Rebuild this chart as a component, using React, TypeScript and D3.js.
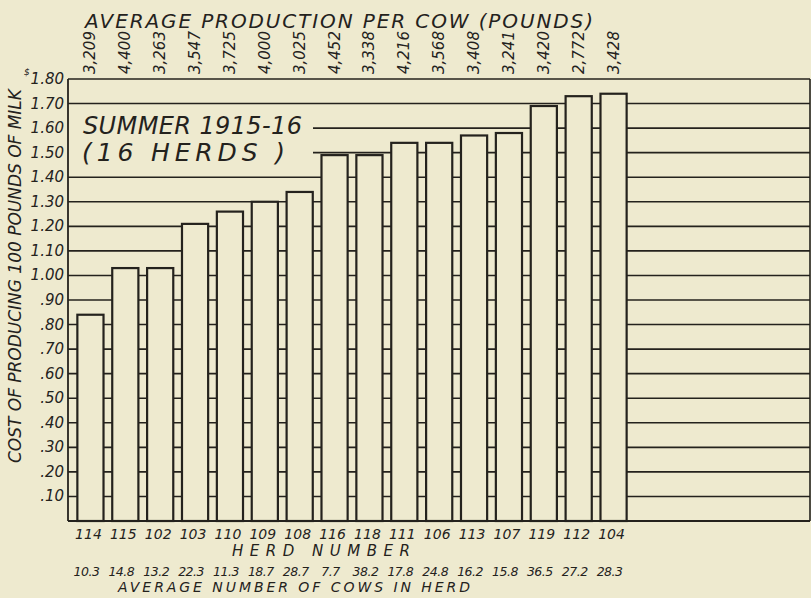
import React from "react";
import * as d3 from "d3";

const herds = ["114","115","102","103","110","109","108","116","118","111","106","113","107","119","112","104"];
const costs = [0.84,1.03,1.03,1.21,1.26,1.30,1.34,1.49,1.49,1.54,1.54,1.57,1.58,1.69,1.73,1.74];
const production = ["3,209","4,400","3,263","3,547","3,725","4,000","3,025","4,452","3,338","4,216","3,568","3,408","3,241","3,420","2,772","3,428"];
const cows = ["10.3","14.8","13.2","22.3","11.3","18.7","28.7","7.7","38.2","17.8","24.8","16.2","15.8","36.5","27.2","28.3"];
const yTicks = [0.1,0.2,0.3,0.4,0.5,0.6,0.7,0.8,0.9,1.0,1.1,1.2,1.3,1.4,1.5,1.6,1.7,1.8];
const hiddenLeft = [1.5, 1.6];

const W = 811, H = 598;
const BG = "#eeeacf";
const INK = "#24221d";
const FONT = "'DejaVu Sans', sans-serif";

export default function App() {
  const left = 68, right = 810, top = 79, bottom = 521;
  const x = d3.scaleBand<string>().domain(herds).range([73, 631]).paddingInner(0.25).paddingOuter(0.125);
  const y = d3.scaleLinear().domain([0, 1.8]).range([bottom, top]);
  const bw = x.bandwidth();
  const fmt = (v: number) => (v < 1 ? d3.format(".2f")(v).replace(/^0/, "") : d3.format(".2f")(v));

  return (
    <svg width={W} height={H} style={{ position: "absolute", left: 0, top: 0, background: BG }} fontFamily={FONT}>
      <rect x={0} y={0} width={W} height={H} fill={BG} />
      {/* top title */}
      <text x={85} y={28} fontSize={20} fontStyle="italic" fill={INK} textLength={508} lengthAdjust="spacing">
        AVERAGE PRODUCTION PER COW (POUNDS)
      </text>
      {/* production labels */}
      {herds.map((h, i) => (
        <text key={"p" + h} transform={`translate(${x(h)! + bw / 2 + 5},${74}) rotate(-90)`} fontSize={15} fontStyle="italic" fill={INK}>
          {production[i]}
        </text>
      ))}
      {/* gridlines */}
      {yTicks.map((t) => (
        <line key={"g" + t} x1={hiddenLeft.includes(t) ? 313 : left} x2={right} y1={y(t)} y2={y(t)} stroke={INK} strokeWidth={1.6} />
      ))}
      <line x1={left} x2={right} y1={bottom} y2={bottom} stroke={INK} strokeWidth={2.2} />
      <line x1={left} x2={left} y1={top} y2={bottom} stroke={INK} strokeWidth={1.8} />
      <line x1={right} x2={right} y1={top} y2={bottom} stroke={INK} strokeWidth={1.6} />
      {/* bars */}
      {herds.map((h, i) => (
        <rect key={"b" + h} x={x(h)!} y={y(costs[i])} width={bw} height={bottom - y(costs[i])} fill={BG} stroke={INK} strokeWidth={2.2} />
      ))}
      {/* annotation */}
      <text x={83} y={134} fontSize={24} fontStyle="italic" fill={INK} textLength={219} lengthAdjust="spacing">SUMMER 1915-16</text>
      <text x={82} y={161} fontSize={25} fontStyle="italic" fill={INK} textLength={203} lengthAdjust="spacing">(16 HERDS )</text>
      {/* y tick labels */}
      {yTicks.map((t) => (
        <text key={"t" + t} x={64} y={y(t) + 5} fontSize={15} fontStyle="italic" textAnchor="end" fill={INK}>
          {fmt(t)}
        </text>
      ))}
      <text transform={`translate(21,${(462 + 90) / 2}) rotate(-90)`} fontSize={17} fontStyle="italic" textAnchor="middle" fill={INK} textLength={374} lengthAdjust="spacing">
        COST OF PRODUCING 100 POUNDS OF MILK
      </text>
      <text x={24} y={75} fontSize={9} fontStyle="italic" fill={INK}>$</text>
      {/* herd numbers */}
      {herds.map((h) => (
        <text key={"h" + h} x={x(h)! + bw / 2 - 2} y={539} fontSize={14} fontStyle="italic" textAnchor="middle" fill={INK}>
          {h}
        </text>
      ))}
      <text x={232} y={556} fontSize={15} fontStyle="italic" fill={INK} textLength={178} lengthAdjust="spacing">HERD NUMBER</text>
      {herds.map((h, i) => (
        <text key={"c" + h} x={x(h)! + bw / 2 - 4} y={576} fontSize={12.5} fontStyle="italic" textAnchor="middle" fill={INK} letterSpacing={-0.5}>
          {cows[i]}
        </text>
      ))}
      <text x={118} y={592} fontSize={14} fontStyle="italic" fill={INK} textLength={352} lengthAdjust="spacing">AVERAGE NUMBER OF COWS IN HERD</text>
    </svg>
  );
}
